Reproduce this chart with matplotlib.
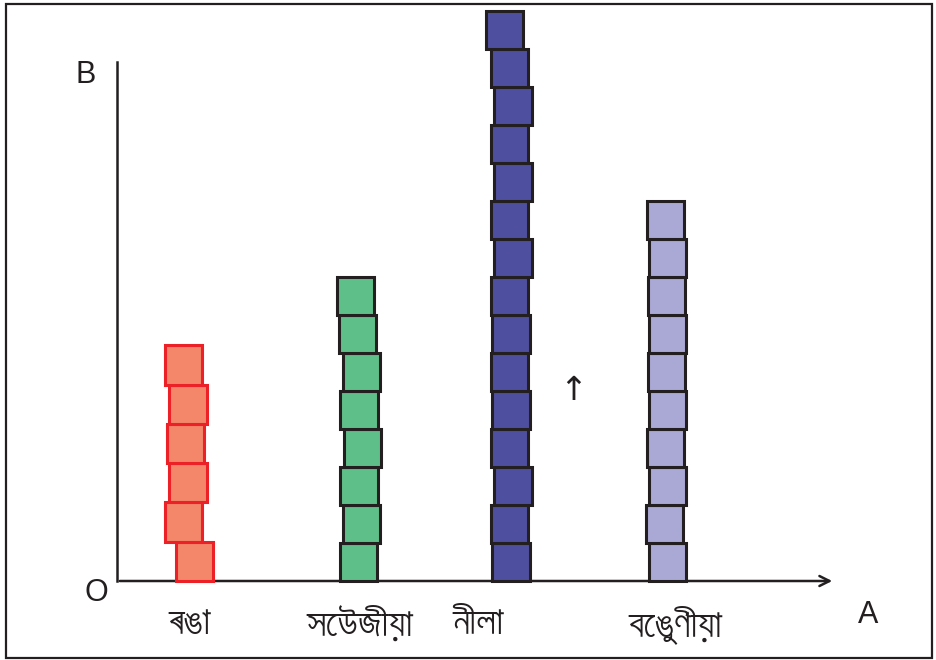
import matplotlib
matplotlib.use('Agg')
from matplotlib import pyplot as plt
from matplotlib.patches import Rectangle
from matplotlib import font_manager

# data: how many blocks in each stack
colours_names = ['ৰঙা', 'সেউজীয়া', 'নীলা', 'বেঙুণীয়া']
block_counts = [6, 8, 15, 10]

fill_colours = ['#f4866a', '#5fbf88', '#4f4fa0', '#aaa8d4']
edge_colours = ['#ec2027', '#231f20', '#231f20', '#231f20']

# layout in pixels of the 936x660 picture
W, H = 936, 660
x0, y0 = 117, 581          # origin O
x_end, y_top = 835, 62     # end of the axes lines
unit = 38.0                # one block in pixels

stack_centres = [187, 360, 510.5, 667]
block_heights = [39.3, 38, 38, 38]
label_centres = [190, 360, 478, 675]

# little sideways wobble of every block, bottom to top (px)
wobble = [
    [7.7, -3.7, 1.0, -1.7, 1.0, -3.3],
    [-1.7, 1.7, -1.0, 2.3, -1.0, 1.7, -2.3, -4.3],
    [0.5, -0.8, 2.5, -0.8, 0.5, -0.8, 0.5, -0.8, 2.5, -0.8, 2.5, -0.8, 2.5, -0.8, -6.2],
    [0.7, -2.7, 0.7, -1.3, 0.7, -0.7, 0.7, -0.7, 0.7, -1.3],
]

# pick a font that can show Bengali script if there is one
bengali_fonts = []
for f in font_manager.fontManager.ttflist:
    if 'Bengali' in f.name or 'Lohit' in f.name or 'Free' in f.name or 'Mukti' in f.name:
        bengali_fonts.append(f.name)
label_family = bengali_fonts + ['Noto Sans', 'DejaVu Sans']

fig = plt.figure(figsize=(W / 100, H / 100), dpi=100)
ax = fig.add_axes([x0 / W, (H - y0) / H, (x_end - x0) / W, (y0 - y_top) / H])
ax.set_xlim(0, (x_end - x0) / unit)
ax.set_ylim(0, (y0 - y_top) / unit)
ax.axis('off')

for i in range(len(block_counts)):
    h = block_heights[i] / unit
    for k in range(block_counts[i]):
        cx = (stack_centres[i] + wobble[i][k] - x0) / unit
        r = Rectangle((cx - 0.49, k * h), 0.98, h, facecolor=fill_colours[i],
                      edgecolor=edge_colours[i], linewidth=2.2, clip_on=False, zorder=3)
        ax.add_patch(r)

# axes lines
ax.plot([0, 0], [0, (y0 - y_top) / unit], color='#231f20', lw=1.8, clip_on=False, zorder=2)
ax.annotate('', xy=((x_end - x0) / unit, 0), xytext=(0, 0),
            arrowprops=dict(arrowstyle='->', color='#231f20', lw=1.8, mutation_scale=18),
            annotation_clip=False, zorder=2)

def fx(px):
    return px / W

def fy(py):
    return 1 - py / H

fig.text(fx(86), fy(75), 'B', fontsize=22, family='Liberation Sans', color='#231f20', ha='center', va='center')
fig.text(fx(96), fy(593), 'O', fontsize=22, family='Liberation Sans', color='#231f20', ha='center', va='center')
fig.text(fx(868), fy(615), 'A', fontsize=22, family='Liberation Sans', color='#231f20', ha='center', va='center')
fig.text(fx(573), fy(391), '↑', fontsize=24, family='DejaVu Sans', color='#231f20', ha='center', va='center')

for i in range(len(colours_names)):
    fig.text(fx(label_centres[i]), fy(625), colours_names[i], fontsize=28, family=label_family,
             color='#231f20', ha='center', va='center')

# frame round the picture
fig.patches.append(Rectangle((fx(6), fy(658)), fx(932) - fx(6), fy(4) - fy(658),
                             transform=fig.transFigure, fill=False, edgecolor='#231f20', lw=1.6))

fig.savefig('out.png', dpi=100)
